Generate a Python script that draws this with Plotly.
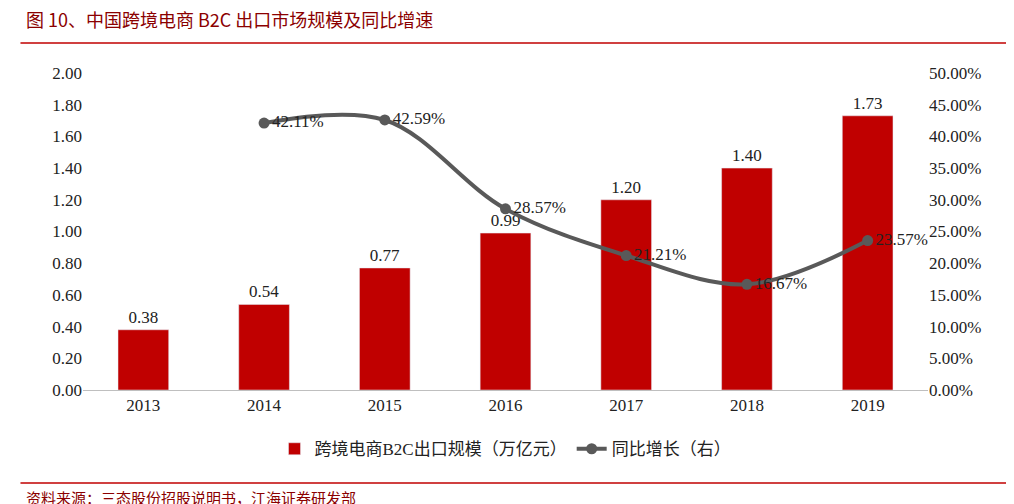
import plotly.graph_objects as go

years = ["2013", "2014", "2015", "2016", "2017", "2018", "2019"]
scale = [0.38, 0.54, 0.77, 0.99, 1.20, 1.40, 1.73]
growth_years = ["2014", "2015", "2016", "2017", "2018", "2019"]
growth = [42.11, 42.59, 28.57, 21.21, 16.67, 23.57]

font = "Times New Roman, Liberation Serif, Noto Sans CJK SC, serif"

fig = go.Figure()
fig.add_trace(go.Bar(
    x=years, y=scale, name="跨境电商B2C出口规模（万亿元）",
    marker_color="#C00000", width=0.42,
    text=["%.2f" % v for v in scale], textposition="outside",
    textfont=dict(size=17, color="#222"), cliponaxis=False,
))
fig.add_trace(go.Scatter(
    x=growth_years, y=growth, yaxis="y2", name="同比增长（右）",
    mode="lines+markers+text", line=dict(color="#595959", width=4, shape="spline"),
    marker=dict(size=11, color="#595959"),
    text=["%.2f%%" % v for v in growth], textposition="middle right",
    textfont=dict(size=17, color="#222"), cliponaxis=False,
))
fig.update_layout(
    width=1014, height=504, plot_bgcolor="white", paper_bgcolor="white",
    font=dict(family=font, size=17, color="#222"),
    margin=dict(l=75, r=94, t=65, b=122, autoexpand=False),
    showlegend=True,
    legend=dict(orientation="h", x=0.5, xanchor="center", y=-0.13, yanchor="top",
                font=dict(size=17)),
    xaxis=dict(showline=True, linecolor="#BFBFBF", ticks="", tickfont=dict(size=17)),
    yaxis=dict(range=[0, 2.0], dtick=0.2, tickformat=".2f", showgrid=False,
               tickfont=dict(size=17), ticks=""),
    yaxis2=dict(range=[0, 50], dtick=5, overlaying="y", side="right", showgrid=False,
                ticksuffix="%", tickformat=".2f", tickfont=dict(size=17)),
    shapes=[
        dict(type="line", xref="paper", yref="paper", x0=-0.074, x1=1.093, y0=1.095, y1=1.095,
             line=dict(color="#C00000", width=1.5)),
        dict(type="line", xref="paper", yref="paper", x0=-0.074, x1=1.093, y0=-0.293, y1=-0.293,
             line=dict(color="#C00000", width=1.5)),
    ],
    annotations=[
        dict(text="图 10、中国跨境电商 B2C 出口市场规模及同比增速", xref="paper", yref="paper",
             x=-0.07, y=1.17, xanchor="left", yanchor="middle", showarrow=False,
             font=dict(size=18, color="#8B0000", family="Noto Sans CJK SC")),
        dict(text="资料来源：三态股份招股说明书，江海证券研发部", xref="paper", yref="paper",
             x=-0.07, y=-0.34, xanchor="left", yanchor="middle", showarrow=False,
             font=dict(size=15, color="#8B0000", family="Noto Sans CJK SC")),
    ],
)
fig.write_html("out.html")
